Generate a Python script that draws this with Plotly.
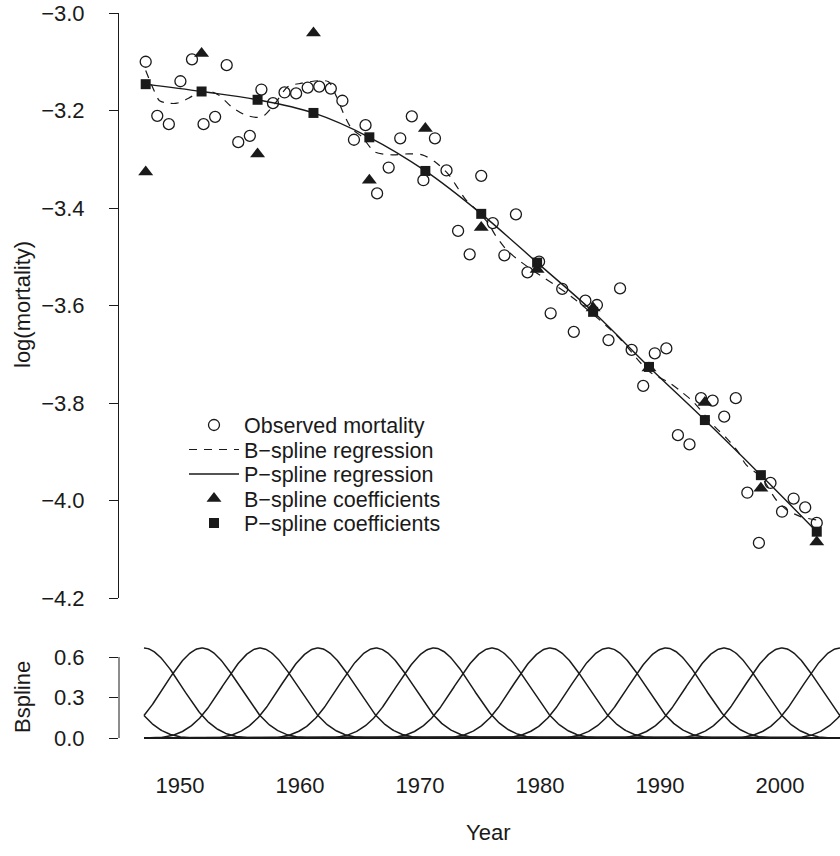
import numpy as np
import plotly.graph_objects as go
from math import factorial

# ---------------- data ----------------
years = list(range(1947, 2006))
observed = [-3.100, -3.211, -3.228, -3.140, -3.095, -3.228, -3.213, -3.107, -3.265, -3.252,
            -3.157, -3.185, -3.163, -3.165, -3.153, -3.151, -3.155, -3.180, -3.260, -3.230,
            -3.370, -3.317, -3.257, -3.212, -3.343, -3.257, -3.323, -3.447, -3.495, -3.334,
            -3.431, -3.497, -3.413, -3.532, -3.510, -3.616, -3.566, -3.654, -3.590, -3.599,
            -3.671, -3.565, -3.691, -3.765, -3.698, -3.688, -3.866, -3.885, -3.790, -3.795,
            -3.828, -3.790, -3.984, -4.087, -3.964, -4.023, -3.996, -4.014, -4.046]

coef_years = [1947.0, 1951.83, 1956.67, 1961.5, 1966.33, 1971.17, 1976.0,
              1980.83, 1985.67, 1990.5, 1995.33, 2000.17, 2005.0]
bspline_coefs = [-3.326, -3.083, -3.289, -3.041, -3.343, -3.237, -3.440,
                 -3.526, -3.605, -3.728, -3.799, -3.975, -4.085]
pspline_coefs = [-3.146, -3.161, -3.178, -3.205, -3.255, -3.324, -3.412,
                 -3.512, -3.613, -3.726, -3.835, -3.948, -4.064]

bfit_years = [1947.0, 1947.7, 1948.2, 1949.0, 1949.7, 1950.7, 1951.4, 1952.1, 1953.3, 1954.4,
              1955.6, 1956.7, 1957.3, 1958.2, 1959.3, 1960.5, 1961.9, 1962.8, 1963.5, 1964.1,
              1964.8, 1965.7, 1966.8, 1968.3, 1969.7, 1970.9, 1972.0, 1973.2, 1974.0, 1974.7,
              1975.6, 1976.6, 1977.2, 1978.2, 1979.4, 1980.4, 1983.8, 1987.7, 1990.5,
              1992.3, 1993.3, 1994.3, 1996.2, 1997.2, 1998.2, 1998.9, 2000.2, 2001.5, 2002.4,
              2003.6, 2005.0]
bfit_values = [-3.118, -3.158, -3.180, -3.185, -3.185, -3.175, -3.165, -3.158, -3.168, -3.192,
               -3.209, -3.214, -3.209, -3.185, -3.151, -3.144, -3.139, -3.141, -3.172, -3.206,
               -3.237, -3.254, -3.285, -3.291, -3.289, -3.291, -3.305, -3.332, -3.360, -3.384,
               -3.404, -3.431, -3.455, -3.486, -3.510, -3.527, -3.582, -3.661, -3.735,
               -3.759, -3.777, -3.797, -3.849, -3.872, -3.900, -3.927, -3.952, -3.999, -4.019,
               -4.033, -4.040]

pfit_years = coef_years
pfit_values = [-3.146, -3.161, -3.178, -3.205, -3.255, -3.324, -3.412,
               -3.512, -3.613, -3.726, -3.835, -3.948, -4.064]

legend_labels = ["Observed mortality", "B\u2212spline regression", "P\u2212spline regression",
                 "B\u2212spline coefficients", "P\u2212spline coefficients"]

y_ticks = [-4.2, -4.0, -3.8, -3.6, -3.4, -3.2, -3.0]
b_ticks = [0.0, 0.3, 0.6]
x_ticks = [1950, 1960, 1970, 1980, 1990, 2000]

# B-spline basis settings (bottom panel)
basis_left, basis_right, basis_nseg, basis_deg = 1947.0, 2005.0, 12, 3


def bbase(x, xl, xr, nseg, deg):
    dx = (xr - xl) / nseg
    knots = xl + dx * np.arange(-deg, nseg + deg + 1)
    P = np.where(x[:, None] >= knots[None, :], (x[:, None] - knots[None, :]) ** deg, 0.0)
    n = len(knots)
    D = np.diff(np.eye(n), n=deg + 1, axis=0) / (factorial(deg) * dx ** deg)
    return (-1) ** (deg + 1) * P @ D.T


xb = np.linspace(basis_left, basis_right, 700)
B = bbase(xb, basis_left, basis_right, basis_nseg, basis_deg)
bx, by = [], []
for j in range(B.shape[1]):
    bx += list(xb) + [None]
    by += list(B[:, j]) + [None]

# ---------------- layout geometry (pixels) ----------------
W, H = 840, 856
mt, mb, ml, mr = 13, 115, 119, 0
plot_h = H - mt - mb
top_bottom_px = 598          # y pixel of -4.2
bot_top_px = 643             # top pixel of basis panel
zero_px, six_px = 738, 657   # pixels of 0.0 and 0.6
top_domain = [(H - mb - top_bottom_px) / plot_h, 1.0]
bot_domain = [0.0, (H - mb - bot_top_px) / plot_h]
ppu = (zero_px - six_px) / 0.6
y2_range = [-(H - mb - zero_px) / ppu, (zero_px - bot_top_px) / ppu]

pxyr_top = 11.57
x1_range = [1947 - (145.7 - ml) / pxyr_top, 1947 + (W - 145.7) / pxyr_top]
pxyr_bot = 12.0
x2_range = [1950 - (180 - ml) / pxyr_bot, 1950 + (W - 180) / pxyr_bot]

ink = "#1a1a1a"
FAM = "Liberation Sans, Arial, Helvetica, sans-serif"
fs = 22
fs_leg = 21.5


def px_to_paper_x(px):
    return (px - ml) / (W - ml - mr)


def px_to_paper_y(py):
    return (H - mb - py) / plot_h


def y2_to_paper(v):
    return bot_domain[0] + (v - y2_range[0]) / (y2_range[1] - y2_range[0]) * (bot_domain[1] - bot_domain[0])


fig = go.Figure()
fig.add_trace(go.Scatter(x=years, y=observed, mode="markers", name=legend_labels[0], legend="legend",
                         marker=dict(symbol="circle-open", size=11, color=ink, line=dict(width=1.3, color=ink)),
                         xaxis="x", yaxis="y", cliponaxis=False))
fig.add_trace(go.Scatter(x=bfit_years, y=bfit_values, mode="lines", name=legend_labels[1], legend="legend2",
                         line=dict(color=ink, width=1.2, dash="8px,7px", shape="spline", smoothing=0.8),
                         xaxis="x", yaxis="y"))
fig.add_trace(go.Scatter(x=pfit_years, y=pfit_values, mode="lines", name=legend_labels[2], legend="legend3",
                         line=dict(color=ink, width=1.4, shape="spline", smoothing=1.0),
                         xaxis="x", yaxis="y"))
fig.add_trace(go.Scatter(x=coef_years, y=bspline_coefs, mode="markers", name=legend_labels[3], legend="legend4",
                         marker=dict(symbol="triangle-up", size=13, color=ink),
                         xaxis="x", yaxis="y", cliponaxis=False))
fig.add_trace(go.Scatter(x=coef_years, y=pspline_coefs, mode="markers", name=legend_labels[4], legend="legend5",
                         marker=dict(symbol="square", size=10, color=ink),
                         xaxis="x", yaxis="y", cliponaxis=False))
fig.add_trace(go.Scatter(x=bx, y=by, mode="lines", showlegend=False,
                         line=dict(color=ink, width=1.5), xaxis="x2", yaxis="y2"))

legend_rows_px = [425, 449.5, 474, 498.5, 523]
legend_left_px = 184
legends = {}
for i, row in enumerate(legend_rows_px):
    key = "legend" if i == 0 else f"legend{i + 1}"
    legends[key] = dict(x=px_to_paper_x(legend_left_px), y=px_to_paper_y(row), xanchor="left",
                        yanchor="middle", bgcolor="rgba(0,0,0,0)", borderwidth=0,
                        font=dict(size=fs_leg, family=FAM, color=ink), itemwidth=50)

fig.update_layout(
    width=W, height=H, margin=dict(l=ml, r=mr, t=mt, b=mb, pad=0),
    paper_bgcolor="white", plot_bgcolor="white", font=dict(size=fs, family=FAM, color=ink),
    showlegend=True,
    xaxis=dict(domain=[0, 1], anchor="y", range=x1_range, showticklabels=False, ticks="",
               showline=False, showgrid=False, zeroline=False),
    yaxis=dict(domain=top_domain, anchor="x", range=[-4.2, -3.0], tickvals=y_ticks, tickformat=".1f",
               ticks="outside", ticklen=9, tickwidth=1, tickcolor=ink, showline=True, linecolor=ink,
               linewidth=1, showgrid=False, zeroline=False, ticklabelstandoff=20,
               tickfont=dict(size=fs, family=FAM, color=ink)),
    xaxis2=dict(domain=[0, 1], anchor="y2", range=x2_range, tickvals=x_ticks, ticks="",
                showline=False, showgrid=False, zeroline=False, ticklabelstandoff=29,
                tickfont=dict(size=fs, family=FAM, color=ink)),
    yaxis2=dict(domain=bot_domain, anchor="x2", range=y2_range, tickvals=b_ticks, tickformat=".1f",
                ticks="outside", ticklen=9, tickwidth=1, tickcolor=ink, showline=False,
                showgrid=False, zeroline=False, ticklabelstandoff=20,
                tickfont=dict(size=fs, family=FAM, color=ink)),
    shapes=[dict(type="line", xref="paper", yref="paper", x0=0, x1=0,
                 y0=y2_to_paper(0.0), y1=y2_to_paper(0.6), line=dict(color=ink, width=1))],
    annotations=[
        dict(text="log(mortality)", xref="paper", yref="paper", x=px_to_paper_x(22),
             y=px_to_paper_y(305), xanchor="center", yanchor="middle", textangle=-90,
             showarrow=False, font=dict(size=fs, family=FAM, color=ink)),
        dict(text="Bspline", xref="paper", yref="paper", x=px_to_paper_x(22),
             y=px_to_paper_y(697), xanchor="center", yanchor="middle", textangle=-90,
             showarrow=False, font=dict(size=fs, family=FAM, color=ink)),
        dict(text="Year", xref="paper", yref="paper", x=px_to_paper_x(488),
             y=px_to_paper_y(832), xanchor="center", yanchor="middle",
             showarrow=False, font=dict(size=fs, family=FAM, color=ink)),
    ],
    **legends,
)

fig.write_html("out.html", config={"displayModeBar": False},
               post_script="document.body.style.margin='0';")
